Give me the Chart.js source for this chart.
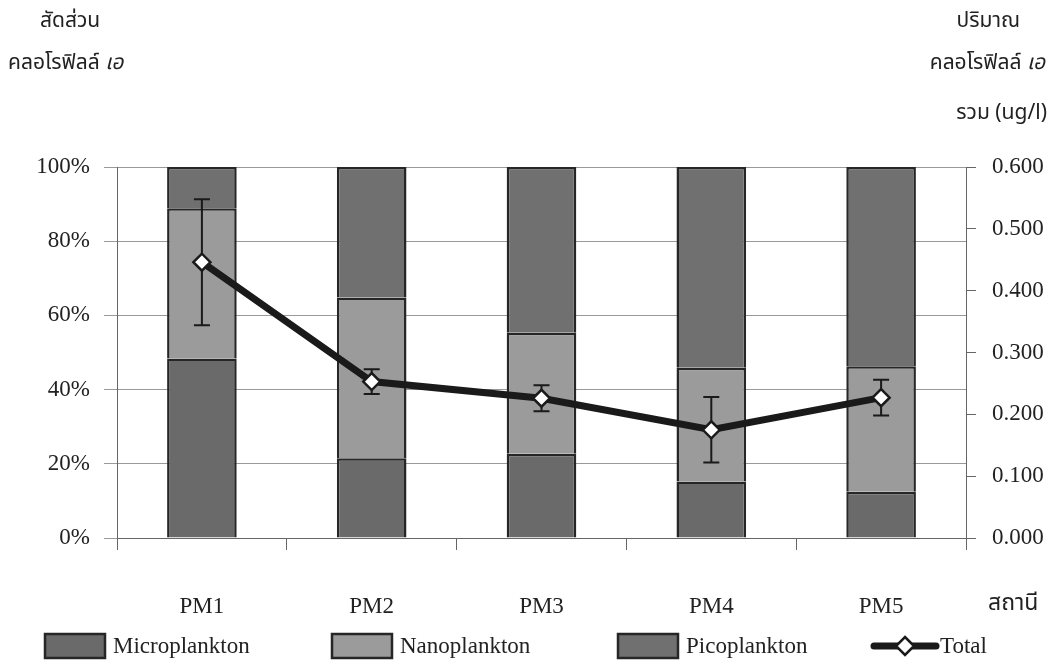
<!DOCTYPE html>
<html>
<head>
<meta charset="utf-8">
<script src="https://cdn.jsdelivr.net/npm/chart.js@4.4.1/dist/chart.umd.min.js"></script>
<style>
  body { margin: 0; background: #fff; }
  #wrap { position: relative; width: 1058px; height: 668px; }
  .lbl { position: absolute; font-family: "Noto Sans Thai", "Noto Serif Thai", "Loma", "Garuda", "Liberation Serif", serif; font-size: 21px; color: #222; white-space: nowrap; line-height: 1; }
  .lbl i { font-style: italic; }
</style>
</head>
<body>
<div id="wrap">
  <canvas id="grafico" width="1058" height="668"></canvas>
  <div class="lbl" style="left:40px; top:10px;">สัดส่วน</div>
  <div class="lbl" style="left:8px; top:52px;">คลอโรฟิลล์ <i>เอ</i></div>
  <div class="lbl" style="right:38px; top:10px;">ปริมาณ</div>
  <div class="lbl" style="right:13px; top:52px;">คลอโรฟิลล์ <i>เอ</i></div>
  <div class="lbl" style="right:11px; top:102px;">รวม (ug/l)</div>
  <div class="lbl" style="left:988px; top:592px; font-size:23px;">สถานี</div>
</div>
<script>
// datos
const estaciones = ['PM1', 'PM2', 'PM3', 'PM4', 'PM5'];
const micro = [48.4, 21.5, 22.7, 15.2, 12.5];
const nano = [40.5, 43.3, 32.6, 30.7, 33.8];
const pico = [11.1, 35.2, 44.7, 54.1, 53.7];
const total = [0.446, 0.253, 0.226, 0.175, 0.227];
const totalSD = [0.102, 0.020, 0.021, 0.053, 0.029];
const pctTicks = [0, 20, 40, 60, 80, 100];

const fuente = { family: 'Liberation Serif', size: 23 };
const borde = '#262626';

// barras de error, antes de dibujar la linea
const errorBars = {
  id: 'errorBars',
  beforeDatasetDraw(chart, args) {
    if (args.index !== 3) return;
    const ctx = chart.ctx;
    const y1 = chart.scales.y1;
    const pts = chart.getDatasetMeta(3).data;
    ctx.save();
    ctx.strokeStyle = '#1a1a1a';
    ctx.lineWidth = 2;
    pts.forEach((p, i) => {
      const top = y1.getPixelForValue(total[i] + totalSD[i]);
      const bot = y1.getPixelForValue(total[i] - totalSD[i]);
      ctx.beginPath();
      ctx.moveTo(p.x, top); ctx.lineTo(p.x, bot);
      ctx.moveTo(p.x - 8, top); ctx.lineTo(p.x + 8, top);
      ctx.moveTo(p.x - 8, bot); ctx.lineTo(p.x + 8, bot);
      ctx.stroke();
    });
    ctx.restore();
  }
};

// leyenda abajo
const leyenda = {
  id: 'leyenda',
  afterDraw(chart) {
    const ctx = chart.ctx;
    const y = 646;
    ctx.save();
    ctx.font = '23px "Liberation Serif"';
    ctx.textBaseline = 'middle';
    ctx.fillStyle = '#222';
    const cajas = [
      { x: 45, color: '#6a6a6a', texto: 'Microplankton' },
      { x: 332, color: '#9b9b9b', texto: 'Nanoplankton' },
      { x: 618, color: '#707070', texto: 'Picoplankton' }
    ];
    cajas.forEach(c => {
      ctx.fillStyle = c.color;
      ctx.fillRect(c.x, y - 12, 60, 24);
      ctx.strokeStyle = borde;
      ctx.lineWidth = 2.5;
      ctx.strokeRect(c.x, y - 12, 60, 24);
      ctx.fillStyle = '#222';
      ctx.fillText(c.texto, c.x + 68, y + 1);
    });
    ctx.strokeStyle = '#1a1a1a';
    ctx.lineWidth = 7;
    ctx.lineCap = 'round';
    ctx.beginPath();
    ctx.moveTo(874, y); ctx.lineTo(936, y);
    ctx.stroke();
    ctx.beginPath();
    ctx.moveTo(905, y - 9); ctx.lineTo(914, y); ctx.lineTo(905, y + 9); ctx.lineTo(896, y);
    ctx.closePath();
    ctx.fillStyle = '#fff';
    ctx.fill();
    ctx.lineWidth = 2.5;
    ctx.stroke();
    ctx.fillStyle = '#222';
    ctx.fillText('Total', 940, y + 1);
    ctx.restore();
  }
};

const barra = { borderColor: borde, borderWidth: 2.5, borderSkipped: 'start', order: 1 };

const ctx = document.getElementById('grafico').getContext('2d');
const chart = new Chart(ctx, {
  data: {
    labels: estaciones,
    datasets: [
      Object.assign({ type: 'bar', label: 'Microplankton', data: micro, backgroundColor: '#6a6a6a' }, barra),
      Object.assign({ type: 'bar', label: 'Nanoplankton', data: nano, backgroundColor: '#9b9b9b' }, barra),
      Object.assign({ type: 'bar', label: 'Picoplankton', data: pico, backgroundColor: '#707070' }, barra),
      {
        type: 'line', label: 'Total', data: total, yAxisID: 'y1', order: 0,
        borderColor: '#1a1a1a', borderWidth: 7, tension: 0,
        pointStyle: 'rectRot', pointRadius: 8.5, pointBackgroundColor: '#fff',
        pointBorderColor: '#1a1a1a', pointBorderWidth: 2.5
      }
    ]
  },
  options: {
    responsive: false,
    animation: false,
    layout: { padding: { top: 167, left: 0, right: 0, bottom: 0 } },
    datasets: { bar: { barPercentage: 1, categoryPercentage: 0.41 } },
    plugins: { legend: { display: false }, tooltip: { enabled: false } },
    scales: {
      x: {
        stacked: true,
        afterFit: s => { s.height = 130; },
        grid: { offset: true, drawOnChartArea: false, tickLength: 12, color: '#666' },
        border: { color: '#666' },
        ticks: { font: fuente, color: '#222', padding: 43 }
      },
      y: {
        stacked: true, min: 0, max: 100,
        afterFit: s => { s.width = 117; },
        afterBuildTicks: s => { s.ticks = pctTicks.map(v => ({ value: v })); },
        grid: { color: '#999', tickLength: 13 },
        border: { color: '#666' },
        ticks: { font: fuente, color: '#222', padding: 14, callback: v => v + '%' }
      },
      y1: {
        position: 'right', min: 0, max: 0.6,
        afterFit: s => { s.width = 92; },
        grid: { drawOnChartArea: false, tickLength: 10, color: '#666' },
        border: { color: '#666' },
        ticks: { font: fuente, color: '#222', padding: 16, stepSize: 0.1, callback: v => v.toFixed(3) }
      }
    }
  },
  plugins: [errorBars, leyenda]
});
</script>
</body>
</html>
